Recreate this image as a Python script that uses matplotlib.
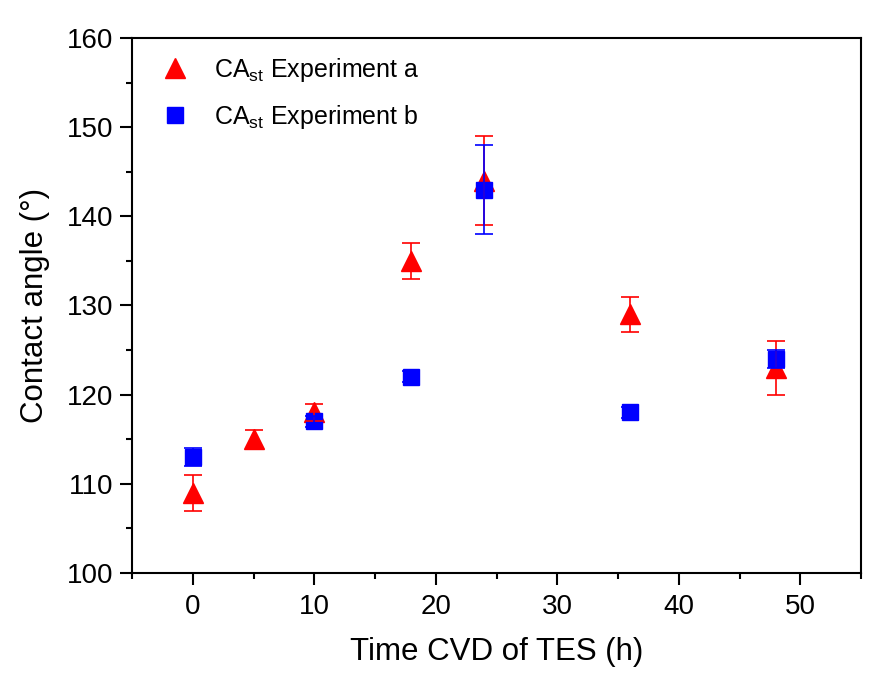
import matplotlib
matplotlib.use('Agg')
import matplotlib.pyplot as plt
from matplotlib.ticker import MultipleLocator

plt.rcParams['font.family'] = ['Liberation Sans', 'DejaVu Sans']
plt.rcParams['mathtext.fontset'] = 'custom'
plt.rcParams['mathtext.rm'] = 'Liberation Sans'

# Experiment a (red triangles)
time_a = [0, 5, 10, 18, 24, 36, 48]
ca_a = [109, 115, 118, 135, 144, 129, 123]
err_a = [2, 1, 1, 2, 5, 2, 3]

# Experiment b (blue squares)
time_b = [0, 10, 18, 24, 36, 48]
ca_b = [113, 117, 122, 143, 118, 124]
err_b = [1, 0.6, 0.6, 5, 0.6, 1]

fig = plt.figure(figsize=(8.72, 6.74), dpi=100)
ax = fig.add_axes([0.1514, 0.1499, 0.836, 0.7937])

ax.plot(time_a, ca_a, linestyle='none', marker='^', color='#ff0000', markersize=14,
        label=r'CA$_{\mathregular{st}}$ Experiment a', zorder=2)
ax.plot(time_b, ca_b, linestyle='none', marker='s', color='#0000ff', markersize=12,
        label=r'CA$_{\mathregular{st}}$ Experiment b', zorder=3)
ax.errorbar(time_a, ca_a, yerr=err_a, fmt='none', ecolor='#ff0000', elinewidth=1.2,
            capsize=6.5, capthick=1.2, zorder=4)
ax.errorbar(time_b, ca_b, yerr=err_b, fmt='none', ecolor='#0000ff', elinewidth=1.2,
            capsize=6.5, capthick=1.2, zorder=5)

ax.set_xlim(-5, 55)
ax.set_ylim(100, 160)
ax.xaxis.set_major_locator(MultipleLocator(10))
ax.xaxis.set_minor_locator(MultipleLocator(5))
ax.yaxis.set_major_locator(MultipleLocator(10))
ax.yaxis.set_minor_locator(MultipleLocator(5))
ax.tick_params(which='both', direction='out', width=1.5, labelsize=20, top=False, right=False)
ax.tick_params(which='major', length=8.5)
ax.tick_params(which='minor', length=4.5)
ax.tick_params(axis='x', pad=7)
ax.tick_params(axis='y', pad=5)
for s in ax.spines.values():
    s.set_linewidth(1.5)

ax.set_xlabel('Time CVD of TES (h)', fontsize=22.5, labelpad=12)
ax.set_ylabel('Contact angle (°)', fontsize=22.5, labelpad=12)

ax.legend(loc='upper left', frameon=False, fontsize=18, handletextpad=0.55,
          handlelength=2.0, borderpad=0.4, borderaxespad=0, labelspacing=0.75,
          bbox_to_anchor=(0.011, 0.985))

fig.savefig('out.png', dpi=100)
